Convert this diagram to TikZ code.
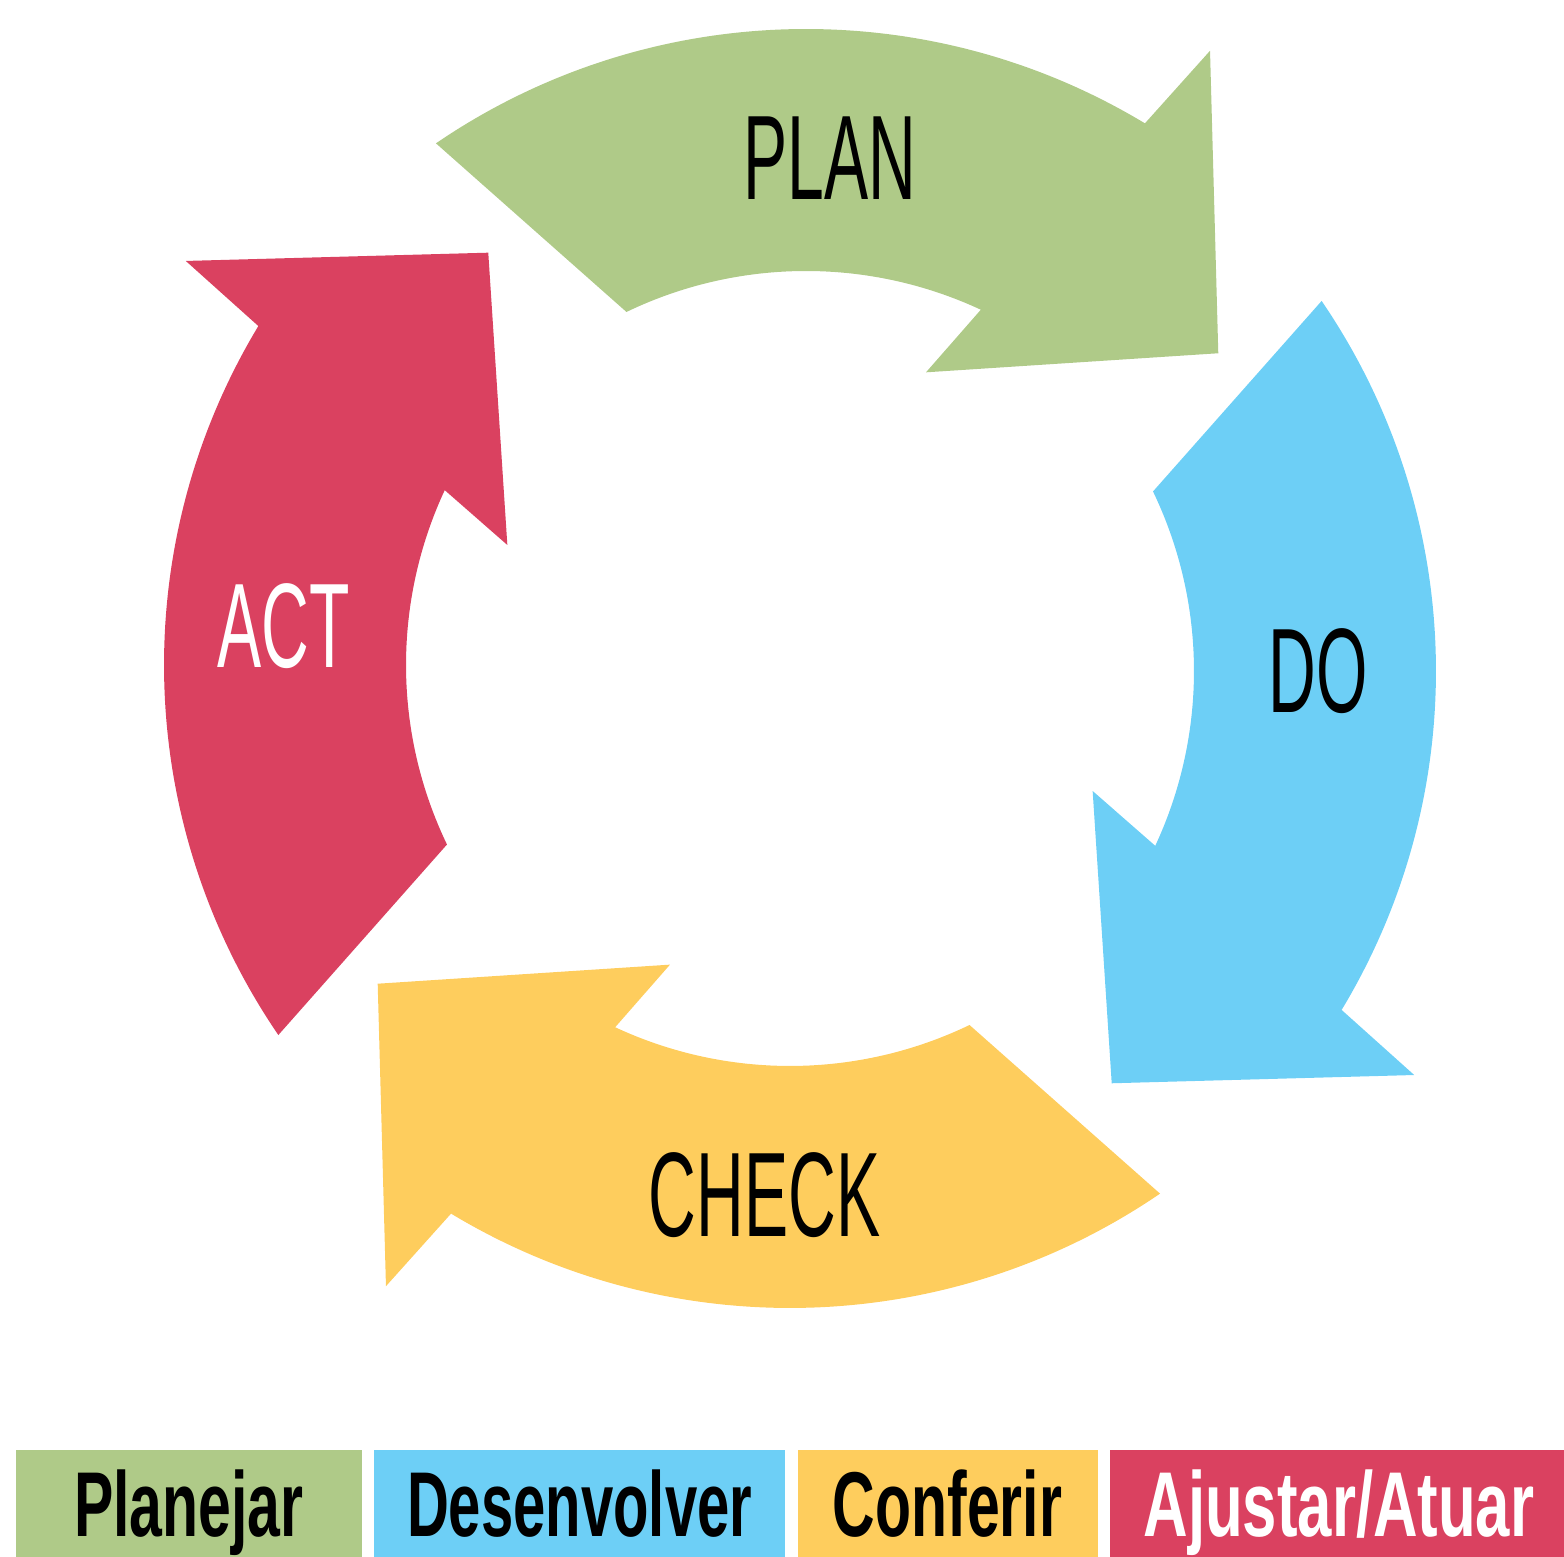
\documentclass[tikz,border=0pt]{standalone}
\usepackage{fontspec}
\usepackage{graphicx}
\usetikzlibrary{positioning}
\newfontfamily\cyclefont{Liberation Sans}
\definecolor{plangreen}{HTML}{AFCA88}
\definecolor{doblue}{HTML}{6DCFF6}
\definecolor{checkyellow}{HTML}{FECD5D}
\definecolor{actred}{HTML}{DA4160}

\begin{document}
\begin{tikzpicture}[node distance=0.11cm,
    every node/.style={inner sep=0pt},
    phase/.style={font={\cyclefont\fontsize{34.2pt}{40pt}\selectfont}, xscale=0.55},
    legend/.style={font={\cyclefont\bfseries\fontsize{26.2pt}{30pt}\selectfont}, minimum height=1.08cm, text height=0.66cm, text depth=0pt},
    pics/piece/.style={code={
      \fill[#1, shift={(0.06,-0.20)}] (124.34:6.56) arc[start angle=124.34, end angle=58.89, radius=6.56]
        -- (57.5:7.52) -- (38.82:5.292) -- (69.0:3.349) -- (65.02:4.14)
        arc[start angle=65.02, end angle=115.7, radius=4.14] -- cycle;
    }}]
  \useasboundingbox (-8.00,-8.92) rectangle (7.64,6.65);
  % the four arrows of the cycle
  \pic {piece=plangreen};
  \pic[rotate=-90] {piece=doblue};
  \pic[shift={(-0.04,-0.07)}, rotate=180] {piece=checkyellow};
  \pic[shift={(0,-0.06)}, rotate=90] {piece=actred};

  \node[phase] (plan) at (0.30,5.07) {PLAN};
  \node[phase] (do) at (5.18,-0.06) {DO};
  \node[phase] (check) at (-0.355,-5.30) {CHECK};
  \node[phase, text=white] (act) at (-5.165,0.39) {ACT};

  % legend
  \node[legend, fill=plangreen, minimum width=3.46cm, anchor=north west] (planejar) at (-7.85,-7.84) {\scalebox{0.64}[1]{Planejar}};
  \node[legend, fill=doblue, minimum width=4.11cm, right=of planejar] (desenvolver) {\scalebox{0.63}[1]{Desenvolver}};
  \node[legend, fill=checkyellow, minimum width=3.00cm, right=of desenvolver] (conferir) {\scalebox{0.64}[1]{Conferir}};
  \node[legend, fill=actred, minimum width=4.58cm, right=of conferir, text=white] (ajustar) {\scalebox{0.67}[1]{Ajustar/Atuar}};
\end{tikzpicture}
\end{document}
